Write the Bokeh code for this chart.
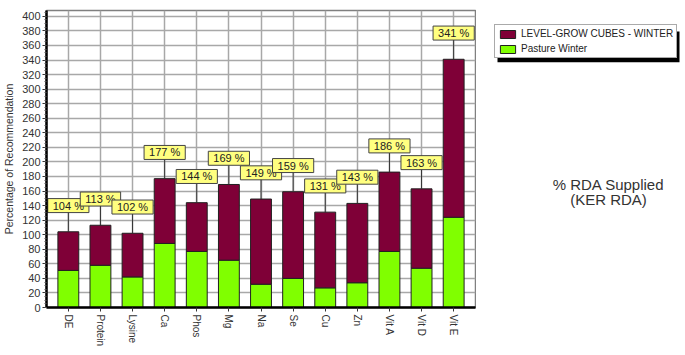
from bokeh.plotting import figure
from bokeh.layouts import row
from bokeh.models import (FactorRange, Range1d, Legend, LegendItem, Label, ColumnDataSource,
                          SingleIntervalTicker, BoxAnnotation)
from bokeh.core.properties import value
from bokeh.embed import file_html
from bokeh.resources import INLINE

categories = ["DE", "Protein", "Lysine", "Ca", "Phos", "Mg", "Na", "Se", "Cu", "Zn", "Vit A", "Vit D", "Vit E"]
pasture = [51, 58, 42, 88, 77, 65, 32, 40, 27, 34, 77, 54, 124]
totals = [104, 113, 102, 177, 144, 169, 149, 159, 131, 143, 186, 163, 341]
cubes = [t - p for t, p in zip(totals, pasture)]
labels = [f"{t} %" for t in totals]
series_names = ["LEVEL-GROW CUBES - WINTER", "Pasture Winter"]
side_text = ["% RDA Supplied", "(KER RDA)"]

MAROON = "#7f0037"
GREEN = "#80ff00"
FONT = "Liberation Sans"
H = 349

src = ColumnDataSource(dict(cat=categories, pasture=pasture, cubes=cubes, total=totals,
                            lab=labels, laby=[t + 36 for t in totals]))

p = figure(width=476, height=H, output_backend="svg", toolbar_location=None,
           x_range=FactorRange(factors=categories, range_padding=0.18, range_padding_units="absolute"),
           y_range=Range1d(0, 408),
           min_border_left=44, min_border_right=1, min_border_top=10, min_border_bottom=41)
p.outline_line_color = "#808080"
p.outline_line_width = 1.5

# grids
p.xgrid.grid_line_color = "#a8a8a8"
p.xgrid.grid_line_width = 1.5
p.ygrid.grid_line_color = "#a8a8a8"
p.ygrid.grid_line_width = 1.5
p.yaxis.ticker = SingleIntervalTicker(interval=20, num_minor_ticks=4)

# axes
for ax in (p.xaxis[0], p.yaxis[0]):
    ax.axis_line_color = "black"
    ax.axis_line_width = 2.5
    ax.major_tick_line_color = "#333333"
    ax.minor_tick_line_color = "#555555"
    ax.major_label_text_font = FONT
    ax.major_label_text_color = "#333333"
p.yaxis.major_label_text_font_size = "11px"
p.xaxis.major_label_text_font_size = "10px"
p.yaxis.major_tick_in = 0
p.yaxis.major_tick_out = 4
p.yaxis.minor_tick_in = 0
p.yaxis.minor_tick_out = 2
p.yaxis.major_label_standoff = 2
p.yaxis.axis_label = "Percentage of Recommendation"
p.yaxis.axis_label_text_font = FONT
p.yaxis.axis_label_text_font_style = "normal"
p.yaxis.axis_label_text_font_size = "10.5px"
p.yaxis.axis_label_text_color = "#333333"
p.yaxis.axis_label_standoff = 4
p.xaxis.major_label_orientation = -1.5708
p.xaxis.major_tick_in = 0
p.xaxis.major_tick_out = 4
p.xaxis.major_label_standoff = 3

# bars
rs = p.vbar_stack(["pasture", "cubes"], x="cat", width=0.65, source=src,
                  color=[GREEN, MAROON], line_color="#202020", line_width=1)

# leader lines and value labels
p.segment(x0="cat", y0="total", x1="cat", y1="laby", source=src, line_color="#333333", line_width=1)
p.text(x="cat", y="laby", text="lab", source=src, text_align="center", text_baseline="middle",
       text_font=value(FONT), text_font_size="11px", text_color="#222222",
       background_fill_color="#ffff80", border_line_color="#444444", border_line_width=1,
       padding=dict(left=5, right=5, top=1, bottom=1))

# side panel with legend and caption (frame aligned with the main plot's frame)
q = figure(width=209, height=H, output_backend="svg", toolbar_location=None,
           x_range=Range1d(0, 209), y_range=Range1d(0, 298),
           x_axis_location=None, y_axis_location=None,
           min_border_left=0, min_border_right=0, min_border_top=10, min_border_bottom=41)
q.grid.visible = False
q.outline_line_color = None
# legend swatch proxies (kept outside the visible range)
r_cubes = q.quad(left=[-30], right=[-20], top=[-20], bottom=[-30],
                 fill_color=MAROON, line_color="#202020")
r_past = q.quad(left=[-30], right=[-20], top=[-20], bottom=[-30],
                fill_color=GREEN, line_color="#202020")

q.add_layout(BoxAnnotation(left=21, right=203, top=277, bottom=246,
                           fill_color="black", fill_alpha=1, line_color=None))
legend = Legend(items=[LegendItem(label=series_names[0], renderers=[r_cubes]),
                       LegendItem(label=series_names[1], renderers=[r_past])],
                location=(18, 249))
legend.label_text_font = FONT
legend.label_text_font_size = "10px"
legend.label_text_color = "#222222"
legend.glyph_width = 19
legend.glyph_height = 10
legend.label_height = 10
legend.spacing = 4
legend.padding = 3
legend.margin = 0
legend.border_line_color = "#555555"
legend.background_fill_alpha = 1
legend.label_standoff = 4
q.add_layout(legend)

for txt, yy in zip(side_text, (123, 108)):
    q.add_layout(Label(x=132, y=yy, text=txt, text_align="center", text_baseline="middle",
                       text_font=FONT, text_font_size="15px", text_color="#333333"))

open("out.html", "w").write(file_html(row(p, q), INLINE))
